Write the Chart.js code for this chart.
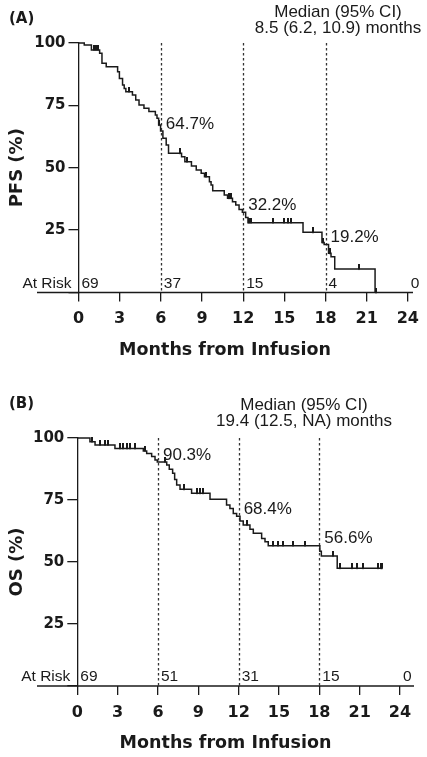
<!DOCTYPE html>
<html>
<head>
<meta charset="utf-8">
<script src="https://cdn.jsdelivr.net/npm/chart.js@4.4.1/dist/chart.umd.min.js"></script>
<style>
  html, body { margin: 0; padding: 0; background: #fff; }
  #wrap { position: relative; width: 427px; height: 757px; }
  canvas { position: absolute; left: 0; }
  #pfs { top: 0; }
  #os { top: 378px; }
</style>
</head>
<body>
<div id="wrap">
  <canvas id="pfs" width="427" height="378"></canvas>
  <canvas id="os" width="427" height="379"></canvas>
</div>
<script>
// landmark months (dashed lines) and at-risk columns
const landmarks = [6, 12, 18];
const atRiskMonths = [0, 6, 12, 18, 24];

// (A) progression-free survival, step times (months) and survival (%)
const pfsTime = [0, 0.42, 0.94, 1.54, 1.71, 2.02, 2.85, 2.98, 3.21, 3.33, 3.45, 3.93, 4.17, 4.41,
  4.77, 5.13, 5.6, 5.72, 5.84, 5.98, 6.15, 6.39, 6.56, 7.51, 7.75, 8.23, 8.58, 8.94, 9.18, 9.54,
  9.66, 9.78, 10.62, 10.86, 11.22, 11.46, 11.7, 11.94, 12.18, 12.35, 16.36, 17.74, 17.9, 18.22,
  18.4, 18.67, 21.61];
const pfsSurv = [100, 99.2, 97.2, 95.9, 91.9, 90.5, 88.5, 85.8, 83.2, 81.8, 80.5, 79.2, 77.2, 75.2,
  73.8, 72.5, 71.1, 69.8, 67.1, 64.7, 61.8, 59.1, 55.8, 54.4, 52.4, 50.7, 49.1, 47.8, 46.4, 44.4,
  43.1, 40.8, 39.1, 37.8, 36.4, 35.1, 33.3, 32.2, 30.1, 28.0, 24.1, 20.0, 19.2, 15.7,
  14.3, 9.4, 0];
const pfsCensor = [1.1, 1.3, 1.4, 3.69, 5.9, 7.4, 7.9, 9.3, 10.98, 11.1, 12.45, 12.6, 14.2,
  14.95, 15.3, 15.45, 17.07, 17.8, 18.3, 20.42, 21.7];
const pfsAtRisk = [69, 37, 15, 4, 0];
const pfsLandmarkText = ["64.7%", "32.2%", "19.2%"];
const pfsLandmarkValue = [64.7, 32.2, 19.2];
const pfsMedian = ["Median (95% CI)", "8.5 (6.2, 10.9) months"];

// (B) overall survival
const osTime = [0, 0.94, 1.32, 2.8, 4.91, 5.16, 5.53, 5.78, 5.95, 6.65, 6.84, 7.09, 7.24, 7.39,
  7.64, 8.5, 9.87, 11.1, 11.35, 11.6, 11.85, 12.1, 12.34, 12.84, 13.09, 13.71, 13.96, 14.2,
  18.04, 18.15, 19.33, 22.7];
const osSurv = [100, 98.5, 97.2, 95.8, 94.8, 93.8, 92.5, 91.1, 90.3, 89.1, 87.4, 85.8, 83.3, 81.0,
  79.3, 77.7, 75.3, 73.0, 71.6, 69.6, 68.4, 66.5, 64.9, 63.2, 61.6, 59.5, 58.2, 56.6,
  54.3, 52.4, 47.5, 47.5];
const osCensor = [1.06, 1.69, 2.06, 2.3, 3.17, 3.42, 3.67, 3.92, 4.29, 5.0, 6.52, 7.9, 8.89,
  9.13, 9.38, 12.6, 14.57, 14.95, 15.32, 16.06, 16.93, 19.03, 19.55, 20.4, 20.78, 21.28,
  22.4, 22.55, 22.65];
const osAtRisk = [69, 51, 31, 15, 0];
const osLandmarkText = ["90.3%", "68.4%", "56.6%"];
const osLandmarkValue = [90.3, 68.4, 56.6];
const osMedian = ["Median (95% CI)", "19.4 (12.5, NA) months"];

const INK = "#1a1a1a";
const BOLD = "'DejaVu Sans', sans-serif";
const PLAIN = "'Liberation Sans', Arial, sans-serif";

function survAt(times, surv, t) {
  let s = surv[0];
  for (let i = 0; i < times.length; i++) if (times[i] <= t) s = surv[i];
  return s;
}

// censor mark: short vertical stroke sitting on top of the curve
const censorMark = document.createElement("canvas");
censorMark.width = 2;
censorMark.height = 10;
(() => {
  const c = censorMark.getContext("2d");
  c.fillStyle = INK;
  c.fillRect(0, 0, 2, 5.5);
})();

const kmExtras = {
  id: "kmExtras",
  beforeDatasetsDraw(chart) {
    const { ctx, chartArea } = chart;
    const x = chart.scales.x, y = chart.scales.y;
    ctx.save();
    ctx.strokeStyle = "#333";
    ctx.lineWidth = 1.3;
    ctx.setLineDash([2.5, 2.5]);
    landmarks.forEach((m) => {
      const px = Math.round(x.getPixelForValue(m)) + 0.5;
      ctx.beginPath();
      ctx.moveTo(px, y.getPixelForValue(100));
      ctx.lineTo(px, chartArea.bottom);
      ctx.stroke();
    });
    ctx.restore();
  },
  afterDraw(chart) {
    const p = chart.options.plugins.kmExtras;
    const { ctx, chartArea } = chart;
    const x = chart.scales.x, y = chart.scales.y;
    ctx.save();
    // x axis line runs under the at-risk label
    ctx.strokeStyle = INK;
    ctx.lineWidth = 1.3;
    ctx.beginPath();
    ctx.moveTo(p.axisFrom, chartArea.bottom);
    ctx.lineTo(p.axisTo, chartArea.bottom);
    ctx.stroke();

    ctx.fillStyle = INK;
    ctx.textBaseline = "middle";
    ctx.font = "15.5px " + PLAIN;
    ctx.textAlign = "right";
    const riskY = chartArea.bottom - 9;
    ctx.fillText("At Risk", x.getPixelForValue(0) - 7, riskY);
    ctx.textAlign = "left";
    p.atRisk.forEach((n, i) => {
      ctx.fillText(String(n), x.getPixelForValue(atRiskMonths[i]) + 3, riskY);
    });

    ctx.font = "17px " + PLAIN;
    p.landmarkText.forEach((t, i) => {
      ctx.fillText(t, x.getPixelForValue(landmarks[i]) + 5, y.getPixelForValue(p.landmarkValue[i]) - 7);
    });

    ctx.textBaseline = "alphabetic";
    ctx.textAlign = "center";
    ctx.fillText(p.median[0], p.medianX, p.medianY);
    ctx.fillText(p.median[1], p.medianX, p.medianY + 16);

    ctx.font = "bold 17.5px " + BOLD;
    ctx.fillText("Months from Infusion", (p.axisFrom + p.axisTo) / 2, chartArea.bottom + 62);

    ctx.textAlign = "left";
    ctx.font = "bold 15px " + BOLD;
    ctx.fillText(p.panel, 9, p.panelY);
    ctx.restore();
  }
};

function makeChart(id, d) {
  const curve = d.time.map((t, i) => ({ x: t, y: d.surv[i] }));
  const ticks = d.censor.map((t) => ({ x: t, y: survAt(d.time, d.surv, t) }));
  return new Chart(document.getElementById(id), {
    type: "line",
    data: {
      datasets: [
        {
          data: curve,
          stepped: "before",
          borderColor: INK,
          borderWidth: 1.5,
          pointRadius: 0,
          fill: false,
          clip: 6
        },
        {
          data: ticks,
          showLine: false,
          pointStyle: censorMark,
          pointRadius: 4,
          clip: 8
        }
      ]
    },
    options: {
      responsive: false,
      animation: false,
      layout: { padding: { left: 0, top: d.top, right: d.right, bottom: 0 } },
      scales: {
        x: {
          type: "linear",
          min: 0,
          max: 24,
          afterFit: (s) => { s.height = d.xHeight; },
          ticks: { stepSize: 3, color: INK, padding: 8, font: { family: BOLD, size: 16, weight: "bold" } },
          grid: { drawOnChartArea: false, tickLength: 9, color: INK, lineWidth: 1.3 },
          border: { display: false }
        },
        y: {
          min: 0,
          max: 100,
          afterFit: (s) => { s.width = d.yWidth; },
          ticks: {
            stepSize: 25,
            color: INK,
            padding: 3,
            font: { family: BOLD, size: 15, weight: "bold" },
            callback: (v) => (v === 0 ? "" : v)
          },
          grid: { drawOnChartArea: false, tickLength: 10, color: INK, lineWidth: 1.3 },
          border: { display: true, color: INK, width: 1.3 },
          title: {
            display: true,
            text: d.yTitle,
            color: INK,
            padding: { top: 7, bottom: 0 },
            font: { family: BOLD, size: 18, weight: "bold" }
          }
        }
      },
      plugins: {
        legend: { display: false },
        tooltip: { enabled: false },
        kmExtras: {
          atRisk: d.atRisk,
          landmarkText: d.landmarkText,
          landmarkValue: d.landmarkValue,
          median: d.median,
          medianX: d.medianX,
          medianY: d.medianY,
          panel: d.panel,
          panelY: d.panelY,
          axisFrom: 37,
          axisTo: d.axisTo
        }
      }
    },
    plugins: [kmExtras]
  });
}

makeChart("pfs", {
  time: pfsTime, surv: pfsSurv, censor: pfsCensor, atRisk: pfsAtRisk,
  landmarkText: pfsLandmarkText, landmarkValue: pfsLandmarkValue, median: pfsMedian,
  yTitle: "PFS (%)", panel: "(A)", panelY: 23,
  top: 43, right: 14, yWidth: 78.5, xHeight: 85.5,
  medianX: 338, medianY: 17, axisTo: 413
});

makeChart("os", {
  time: osTime, surv: osSurv, censor: osCensor, atRisk: osAtRisk,
  landmarkText: osLandmarkText, landmarkValue: osLandmarkValue, median: osMedian,
  yTitle: "OS (%)", panel: "(B)", panelY: 30,
  top: 60, right: 27, yWidth: 77.3, xHeight: 71,
  medianX: 304, medianY: 32, axisTo: 414
});
</script>
</body>
</html>
